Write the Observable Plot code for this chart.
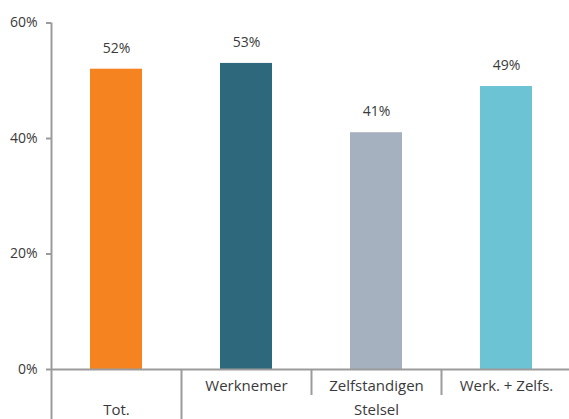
<!DOCTYPE html>
<html>
<head>
<meta charset="utf-8">
<script src="https://cdn.jsdelivr.net/npm/d3@7"></script>
<script src="https://cdn.jsdelivr.net/npm/@observablehq/plot@0.6"></script>
<style>
  html, body { margin: 0; padding: 0; background: #fff; }
</style>
</head>
<body>
<div id="chart"></div>
<script>
const categories = ["Tot.", "Werknemer", "Zelfstandigen", "Werk. + Zelfs."];
const values = [52, 53, 41, 49];
const colors = ["#F5831F", "#2D687D", "#A5B1BE", "#6CC3D3"];
const subLabels = ["", "Werknemer", "Zelfstandigen", "Werk. + Zelfs."];
const groupLabels = ["Tot.", "Stelsel"];
const groupCenters = ["Tot.", "Zelfstandigen"];
const yTicks = [0, 20, 40, 60];

const data = categories.map((c, i) => ({cat: c, value: values[i], color: colors[i], sub: subLabels[i]}));
const groups = groupLabels.map((g, i) => ({label: g, at: groupCenters[i]}));

const axisColor = "#9B9B9B";
const textColor = "#3A3A3A";
const half = 65;

const plot = Plot.plot({
  width: 569,
  height: 419,
  marginLeft: 51,
  marginRight: 0,
  marginTop: 0,
  marginBottom: 0,
  style: {fontFamily: "'Open Sans', sans-serif", fontSize: "14px", color: textColor, background: "#fff"},
  x: {domain: categories, range: [51, 571], paddingInner: 0.6, paddingOuter: 0.3, axis: null, label: null},
  y: {domain: [0, 60], range: [369, 22.5], axis: null, label: null},
  marks: [
    Plot.barY(data, {x: "cat", y: "value", fill: "color"}),
    Plot.text(data, {x: "cat", y: "value", text: d => d.value + "%", dy: -21, fill: textColor, fontSize: 14}),
    Plot.axisY({ticks: yTicks, tickFormat: d => d + "%", tickSize: 5, tickPadding: 9, stroke: axisColor, strokeWidth: 2, fill: textColor, fontSize: 14, label: null}),
    Plot.ruleY([0], {stroke: axisColor, strokeWidth: 2}),
    Plot.ruleX([categories[0]], {x: d => d, dx: -half, y1: 60, y2: 0, insetBottom: -50, stroke: axisColor, strokeWidth: 2}),
    Plot.ruleX([categories[1]], {x: d => d, dx: -half, y1: 0, y2: 0, insetBottom: -50, stroke: axisColor, strokeWidth: 2}),
    Plot.ruleX(categories.slice(2), {x: d => d, dx: -half, y1: 0, y2: 0, insetBottom: -26, stroke: axisColor, strokeWidth: 2}),
    Plot.text(data, {x: "cat", y: 0, text: "sub", dy: 17, fill: textColor, fontSize: 15}),
    Plot.text(groups, {x: "at", y: 0, text: "label", dy: 41, fill: textColor, fontSize: 15})
  ]
});

document.getElementById("chart").appendChild(plot);
</script>
</body>
</html>
